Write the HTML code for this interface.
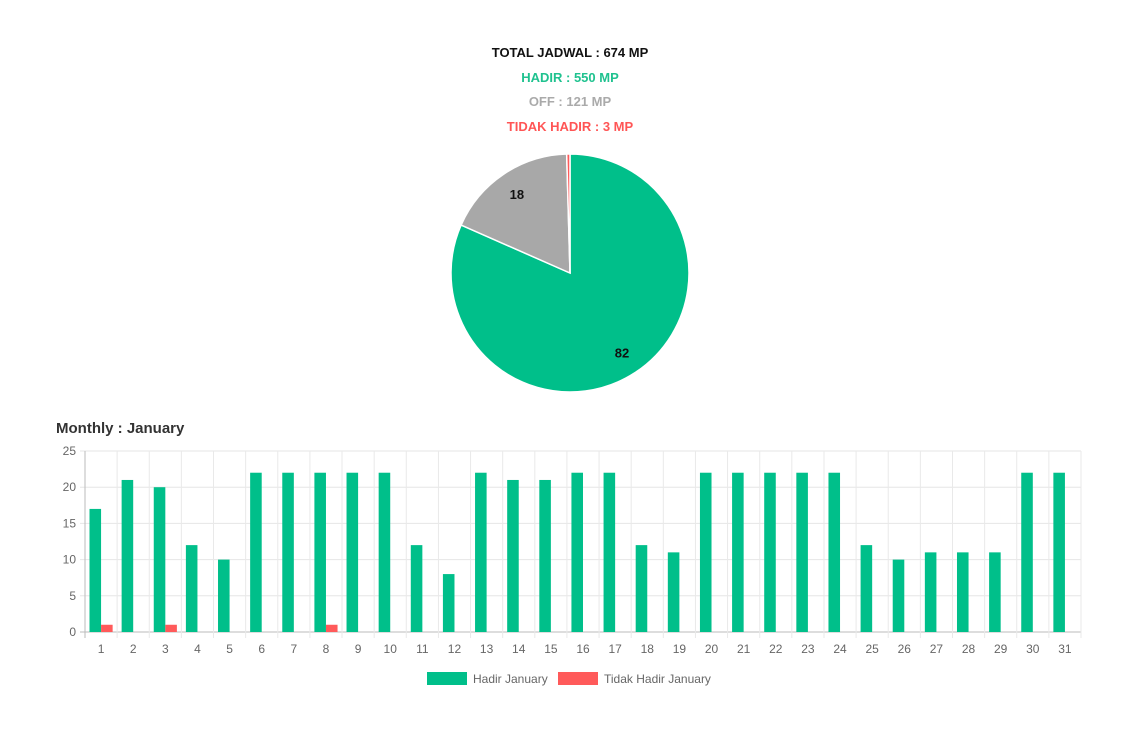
<!DOCTYPE html>
<html><head><meta charset="utf-8"><style>
body{margin:0;background:#fff;width:1140px;height:739px;overflow:hidden;font-family:"Liberation Sans",sans-serif}
.t{position:absolute;left:0;width:1140px;text-align:center;font-weight:bold;font-size:13px}
</style></head><body>
<div class="t" style="top:45px;color:#111">TOTAL JADWAL : 674 MP</div>
<div class="t" style="top:70px;color:#1fc28f">HADIR : 550 MP</div>
<div class="t" style="top:94px;color:#aaa">OFF : 121 MP</div>
<div class="t" style="top:119px;color:#f55">TIDAK HADIR : 3 MP</div>
<div style="position:absolute;left:56px;top:420px;font-size:15px;font-weight:bold;color:#333">Monthly : January</div>
<svg id="s" width="1140" height="739" style="position:absolute;left:0;top:0"></svg>
<script>
const pieLabels=["Hadir","Off","Tidak Hadir"];
const pieValues=[550,121,3];
const pieColors=["#00bf8a","#a8a8a8","#ff5a5a"];
const days=[1,2,3,4,5,6,7,8,9,10,11,12,13,14,15,16,17,18,19,20,21,22,23,24,25,26,27,28,29,30,31];
const hadir=[17,21,20,12,10,22,22,22,22,22,12,8,22,21,21,22,22,12,11,22,22,22,22,22,12,10,11,11,11,22,22];
const tidak=[1,0,1,0,0,0,0,1,0,0,0,0,0,0,0,0,0,0,0,0,0,0,0,0,0,0,0,0,0,0,0];
const yTicks=[0,5,10,15,20,25];
const NS="http://www.w3.org/2000/svg";
const s=document.getElementById('s');
function mk(t,a,p){const e=document.createElementNS(NS,t);for(const k in a)e.setAttribute(k,a[k]);(p||s).appendChild(e);return e;}
// pie
const cx=570,cy=273,r=119;const tot=pieValues.reduce((a,b)=>a+b,0);
let ang=-Math.PI/2;
pieValues.forEach((v,i)=>{const a2=ang+v/tot*2*Math.PI;
 const x1=cx+r*Math.cos(ang),y1=cy+r*Math.sin(ang),x2=cx+r*Math.cos(a2),y2=cy+r*Math.sin(a2);
 const p=mk('path',{d:`M${cx},${cy}L${x1},${y1}A${r},${r} 0 ${a2-ang>Math.PI?1:0} 1 ${x2},${y2}Z`,fill:pieColors[i],stroke:'#fff','stroke-width':1.5});
 
 
 const pct=Math.round(v/tot*100);
 if(pct>=5){const m=(ang+a2)/2;const t=mk('text',{x:cx+0.8*r*Math.cos(m),y:cy+0.8*r*Math.sin(m)+5,'text-anchor':'middle','font-size':13,'font-weight':'bold',fill:'#111'});t.textContent=pct;
 
 }
 ang=a2;});
// bar
const L=85,R=1081,T=451,B=632,ymax=25;
const cw=(R-L)/days.length;
const y=v=>B-(v/ymax)*(B-T);
yTicks.forEach(v=>{const g=mk('line',{x1:L-5,x2:R,y1:y(v),y2:y(v),stroke:v==0?'#bbb':'#e6e6e6'});
 
 
 const t=mk('text',{x:76,y:y(v)+4,'text-anchor':'end','font-size':12,fill:'#666'});t.textContent=v;
 
 });
for(let i=0;i<=days.length;i++){const x=L+i*cw;const g=mk('line',{x1:x,x2:x,y1:T,y2:B+6,stroke:i==0?'#bbb':'#e9e9e9'});
 
 }
const bw=cw*0.36;
days.forEach((d,i)=>{const c=L+(i+0.5)*cw;
 const b1=mk('rect',{x:c-bw,y:y(hadir[i]),width:bw,height:B-y(hadir[i]),fill:'#00bf8a'});
 
 
 if(tidak[i]>0){const b2=mk('rect',{x:c,y:y(tidak[i]),width:bw,height:B-y(tidak[i]),fill:'#ff5a5a'});
 
 }
 const t=mk('text',{x:c,y:653,'text-anchor':'middle','font-size':12,fill:'#666'});t.textContent=d;
 
 });
// legend
[[427,'#00bf8a','Hadir January'],[558,'#ff5a5a','Tidak Hadir January']].forEach(l=>{
 const b=mk('rect',{x:l[0],y:672,width:40,height:13,fill:l[1]});
 
 
 const t=mk('text',{x:l[0]+46,y:683,'font-size':12,fill:'#666'});t.textContent=l[2];
 
 });
</script>
</body></html>
